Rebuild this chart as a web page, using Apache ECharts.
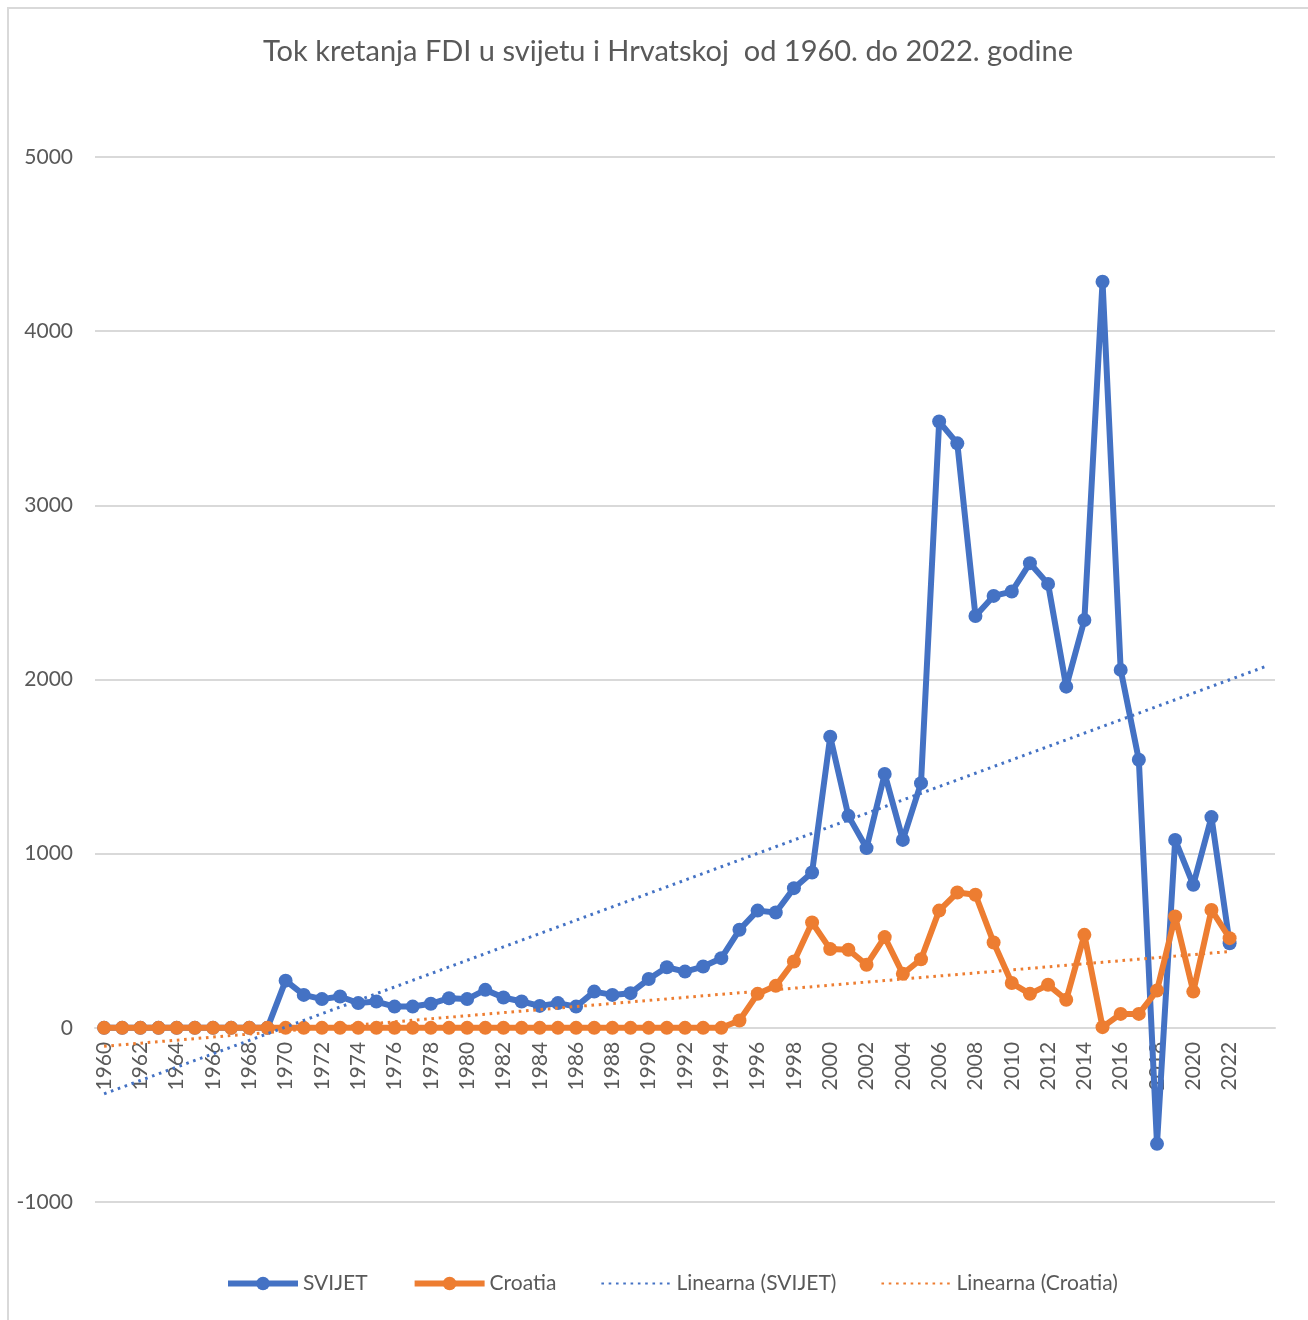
<!DOCTYPE html>
<html>
<head>
<meta charset="utf-8">
<script src="https://cdn.jsdelivr.net/npm/echarts@6/dist/echarts.min.js"></script>
<style>
  html, body { margin: 0; padding: 0; background: #fff; }
  #main { width: 1308px; height: 1320px; }
</style>
</head>
<body>
<div id="main"></div>
<script>
// godine (1960-2022), plus dvije godine za prognozu trenda
var years = [];
for (var y = 1960; y <= 2024; y++) years.push(String(y));

// FDI svijet
var svijet = [
  0, 0, 0, 0, 0, 0, 0, 0, 0, 0,
  271, 189, 165, 180, 142, 151, 122, 122, 138, 170,
  165, 218, 174, 151, 126, 142, 122, 208, 189, 199,
  280, 348, 323, 352, 400, 563, 673, 662, 802, 892,
  1672, 1217, 1032, 1458, 1079, 1405, 3481, 3356, 2365, 2480,
  2505, 2668, 2549, 1959, 2342, 4284, 2055, 1539, -666, 1079,
  821, 1210, 486
];

// FDI Hrvatska
var croatia = [
  0, 0, 0, 0, 0, 0, 0, 0, 0, 0,
  0, 0, 0, 0, 0, 0, 0, 0, 0, 0,
  0, 0, 0, 0, 0, 0, 0, 0, 0, 0,
  0, 0, 0, 0, 0, 42, 195, 241, 381, 605,
  452, 448, 362, 521, 310, 394, 673, 777, 764, 490,
  257, 195, 247, 161, 534, 4, 80, 80, 214, 639,
  208, 677, 515
];

// linearni trend (najmanji kvadrati), kao Excel trendline
function linearTrend(data, count) {
  var n = data.length, sx = 0, sy = 0, sxy = 0, sxx = 0;
  for (var i = 0; i < n; i++) {
    var x = i + 1;
    sx += x; sy += data[i]; sxy += x * data[i]; sxx += x * x;
  }
  var b = (n * sxy - sx * sy) / (n * sxx - sx * sx);
  var a = (sy - b * sx) / n;
  var out = [];
  for (var j = 0; j < count; j++) out.push(+(a + b * (j + 1)).toFixed(2));
  return out;
}

var trendSvijet = linearTrend(svijet, svijet.length + 2);
var trendCroatia = linearTrend(croatia, croatia.length);

var blue = '#4472C4';
var orange = '#ED7D31';
var textColor = '#595959';
var font = 'Lato';

var gridTop = 157, gridHeight = 1045;
var yMin = -1000, yMax = 5000;

var myChart = echarts.init(document.getElementById('main'));

var option = {
  backgroundColor: '#fff',
  animation: false,
  textStyle: { fontFamily: font },
  graphic: [{
    type: 'rect',
    shape: { x: 8, y: 8, width: 1400, height: 1400 },
    style: { fill: 'none', stroke: '#d9d9d9', lineWidth: 2 },
    silent: true
  }],
  title: {
    text: 'Tok kretanja FDI u svijetu i Hrvatskoj  od 1960. do 2022. godine',
    left: 258,
    top: 32,
    textStyle: { color: textColor, fontSize: 29, fontWeight: 'normal', fontFamily: font }
  },
  legend: {
    bottom: 21,
    left: 220,
    itemWidth: 70,
    itemHeight: 17,
    itemGap: 44,
    textStyle: { color: textColor, fontSize: 21, fontFamily: font },
    data: [
      { name: 'SVIJET', lineStyle: { width: 6 } },
      { name: 'Croatia', lineStyle: { width: 6 } },
      { name: 'Linearna (SVIJET)', itemStyle: { color: 'rgba(0,0,0,0)', borderWidth: 0 } },
      { name: 'Linearna (Croatia)', itemStyle: { color: 'rgba(0,0,0,0)', borderWidth: 0 } }
    ]
  },
  grid: {
    left: 95,
    right: 33,
    top: gridTop,
    height: gridHeight
  },
  xAxis: {
    type: 'category',
    data: years,
    boundaryGap: true,
    position: 'bottom',
    // os na nuli
    offset: -gridHeight * (0 - yMin) / (yMax - yMin),
    axisLine: { onZero: false, lineStyle: { color: '#d9d9d9', width: 2 } },
    axisTick: { show: false },
    splitLine: { show: false },
    axisLabel: {
      rotate: 90,
      margin: 14,
      color: textColor,
      fontSize: 21,
      fontFamily: font,
      interval: function (idx, val) { return idx % 2 === 0 && +val <= 2022; }
    }
  },
  yAxis: {
    type: 'value',
    min: yMin,
    max: yMax,
    interval: 1000,
    axisLine: { show: false },
    axisTick: { show: false },
    splitLine: { lineStyle: { color: '#d9d9d9', width: 2 } },
    axisLabel: {
      color: textColor, fontSize: 21, margin: 22, fontFamily: font,
      formatter: function (v) { return String(v); }
    }
  },
  series: [
    {
      name: 'SVIJET',
      type: 'line',
      data: svijet,
      symbol: 'circle',
      symbolSize: 14,
      showAllSymbol: true,
      lineStyle: { color: blue, width: 6 },
      itemStyle: { color: blue },
      z: 2
    },
    {
      name: 'Croatia',
      type: 'line',
      data: croatia,
      symbol: 'circle',
      symbolSize: 14,
      showAllSymbol: true,
      lineStyle: { color: orange, width: 6 },
      itemStyle: { color: orange },
      z: 3
    },
    {
      name: 'Linearna (SVIJET)',
      type: 'line',
      data: trendSvijet,
      symbol: 'none',
      lineStyle: { color: blue, width: 3, type: [2.6, 4.7] },
      itemStyle: { color: blue },
      z: 4
    },
    {
      name: 'Linearna (Croatia)',
      type: 'line',
      data: trendCroatia,
      symbol: 'none',
      lineStyle: { color: orange, width: 3, type: [2.6, 4.7] },
      itemStyle: { color: orange },
      z: 4
    }
  ]
};

myChart.setOption(option);
</script>
</body>
</html>
